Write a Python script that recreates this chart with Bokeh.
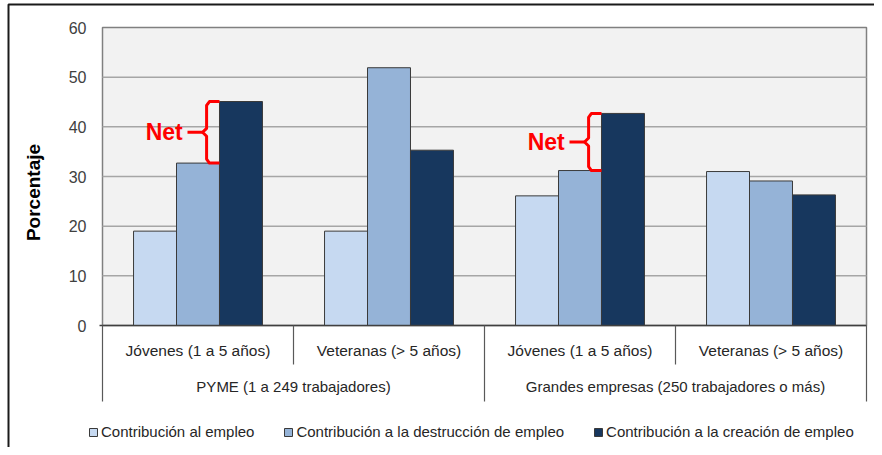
import math
from bokeh.plotting import figure
from bokeh.models import Range1d, Legend, LegendItem
from bokeh.core.properties import value
from bokeh.embed import file_html
from bokeh.resources import INLINE

# ---- data ----
groups = ["PYME (1 a 249 trabajadores)", "Grandes empresas (250 trabajadores o más)"]
ages = ["Jóvenes (1 a 5 años)", "Veteranas (> 5 años)"]
series_names = ["Contribución al empleo",
                "Contribución a la destrucción de empleo",
                "Contribución a la creación de empleo"]
contrib_empleo = [19.0, 19.0, 26.1, 31.0]
contrib_destruccion = [32.7, 51.9, 31.2, 29.1]
contrib_creacion = [45.1, 35.3, 42.7, 26.3]
y_ticks = [0, 10, 20, 30, 40, 50, 60]
y_label = "Porcentaje"
net_text = "Net"
net_categories = [0, 2]   # Jóvenes in each group
colors = ["#c6d9f1", "#95b3d7", "#17375e"]

FONT = "Liberation Sans"

categories = [(g, a) for g in groups for a in ages]
n_cat = len(categories)
centers = [i + 0.5 for i in range(n_cat)]
bw = 0.225
series = [contrib_empleo, contrib_destruccion, contrib_creacion]

# layout: whole canvas is the frame; pixel geometry
W, H = 874, 447
PX_X = 191.0            # px per category
PX_Y = 298.0 / 60.0     # px per percent
X0_PX, Y0_PX = 102.0, 325.0   # position of (0, 0)

def xd(px):
    return (px - X0_PX) / PX_X

def yd(py):
    return (Y0_PX - py) / PX_Y

p = figure(width=W, height=H, output_backend="svg", toolbar_location=None,
           x_range=Range1d(xd(0), xd(W)), y_range=Range1d(yd(H), yd(0)),
           x_axis_location=None, y_axis_location=None,
           min_border=0, min_border_left=0, min_border_right=0,
           min_border_top=0, min_border_bottom=0)
p.outline_line_color = None
p.background_fill_color = "white"
p.border_fill_color = "white"
p.grid.visible = False

# outer chart frame
p.line(x=[xd(8), xd(8), xd(W + 5)], y=[yd(H + 5), yd(4), yd(4)],
       line_color="#1a1a1a", line_width=2)

# plot area background + grid
p.quad(left=[0], right=[n_cat], bottom=[y_ticks[0]], top=[y_ticks[-1]],
       fill_color="#f2f2f2", line_color="#808080", line_width=1.5)
grid_y = y_ticks[1:-1]
p.segment(x0=[0] * len(grid_y), x1=[n_cat] * len(grid_y), y0=grid_y, y1=grid_y,
          line_color="#a6a6a6", line_width=1.5)

# y tick labels and axis title
p.text(x=[xd(86)] * len(y_ticks), y=y_ticks, text=[str(t) for t in y_ticks],
       text_align="right", text_baseline="middle",
       text_font=value(FONT), text_font_size="16px", text_color="#404040")
p.text(x=[xd(33)], y=[yd(192)], text=[y_label], angle=math.pi / 2,
       text_align="center", text_baseline="middle",
       text_font=value(FONT), text_font_style="bold", text_font_size="19px",
       text_color="#000000")

# bars
offsets = [-bw, 0.0, bw]
items = []
for k, (vals, name, col) in enumerate(zip(series, series_names, colors)):
    r = p.vbar(x=[c + offsets[k] for c in centers], top=vals, bottom=0, width=bw,
               fill_color=col, line_color="#3a3a3a", line_width=1)
    items.append(LegendItem(label=name, renderers=[r]))

# category table under the axis
p.segment(x0=[xd(99)], x1=[n_cat], y0=[0], y1=[0], line_color="#404040", line_width=1.5)
short_edges = [i for i in range(1, n_cat) if i % len(ages) != 0]
long_edges = [i for i in range(0, n_cat + 1) if i % len(ages) == 0]
p.segment(x0=short_edges, x1=short_edges, y0=[0] * len(short_edges),
          y1=[yd(364)] * len(short_edges), line_color="#595959", line_width=1.2)
p.segment(x0=long_edges, x1=long_edges, y0=[0] * len(long_edges),
          y1=[yd(401)] * len(long_edges), line_color="#595959", line_width=1.2)
p.text(x=centers, y=[yd(350)] * n_cat, text=[a for (g, a) in categories],
       text_align="center", text_baseline="middle",
       text_font=value(FONT), text_font_size="15.5px", text_color="#262626")
gcent = [len(ages) * (j + 0.5) for j in range(len(groups))]
p.text(x=gcent, y=[yd(386)] * len(groups), text=groups,
       text_align="center", text_baseline="middle",
       text_font=value(FONT), text_font_size="15px", text_color="#262626")

# "Net" braces
for i in net_categories:
    c = centers[i]
    y0 = contrib_destruccion[i]
    y1 = contrib_creacion[i]
    ym = (y0 + y1) / 2
    xe = c + bw / 2
    xs = c + 0.045
    xm = c + 0.024
    xs_ = [xe, xs + 0.015, xs, xs, xm, xs, xs, xs + 0.015, xe]
    ys_ = [y1, y1, y1 - 0.8, ym + 0.8, ym, ym - 0.8, y0 + 0.8, y0, y0]
    p.line(xs_, ys_, line_color="#ff0000", line_width=3, line_join="round")
    p.segment(x0=[c - 0.055], x1=[xm], y0=[ym], y1=[ym], line_color="#ff0000", line_width=3)
    p.text(x=[c - 0.08], y=[ym], text=[net_text], text_align="right", text_baseline="middle",
           text_font=value(FONT), text_font_style="bold",
           text_font_size="23px", text_color="#ff0000")

legend = Legend(items=items, orientation="horizontal", location=(88, 7),
                padding=0, margin=0, spacing=29, label_standoff=3,
                glyph_width=10, glyph_height=10,
                border_line_color=None, background_fill_alpha=0,
                label_text_font=FONT, label_text_font_size="15px",
                label_text_color="#262626")
p.add_layout(legend)

open("out.html", "w").write(file_html(p, INLINE))
